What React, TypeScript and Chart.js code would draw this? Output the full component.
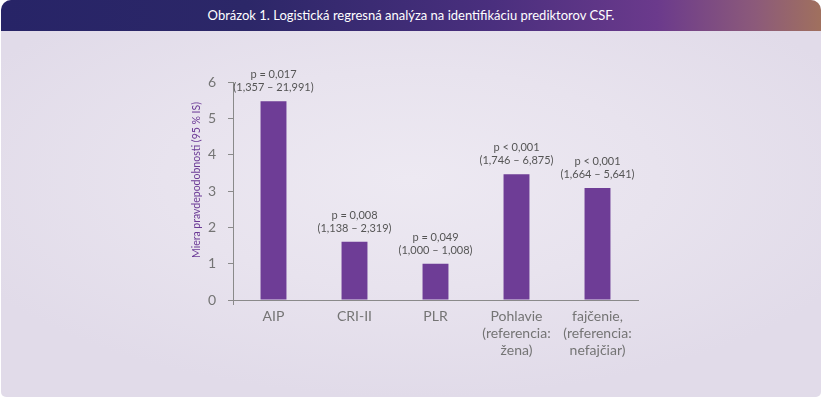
import React, { useEffect, useRef } from "react";
import { Chart, registerables } from "chart.js";

Chart.register(...registerables);

const categories: string[][] = [
  ["AIP"],
  ["CRI-II"],
  ["PLR"],
  ["Pohlavie", "(referencia:", "žena)"],
  ["fajčenie,", "(referencia:", "nefajčiar)"],
];
const oddsRatios: number[] = [5.47, 1.6, 1.0, 3.46, 3.08];
const pLabels: string[] = ["p = 0,017", "p = 0,008", "p = 0,049", "p < 0,001", "p < 0,001"];
const ciLabels: string[] = [
  "(1,357 – 21,991)",
  "(1,138 – 2,319)",
  "(1,000 – 1,008)",
  "(1,746 – 6,875)",
  "(1,664 – 5,641)",
];
const yTicks: number[] = [0, 1, 2, 3, 4, 5, 6];
const title = "Obrázok 1. Logistická regresná analýza na identifikáciu prediktorov CSF.";
const yTitle = "Miera pravdepodobnosti (95 % IS)";

const FONT = "Lato, 'Open Sans', sans-serif";

export default function App() {
  const ref = useRef<HTMLCanvasElement | null>(null);

  useEffect(() => {
    if (!ref.current) return;
    const annot = {
      id: "annot",
      afterDatasetsDraw(chart: any) {
        const ctx = chart.ctx;
        const meta = chart.getDatasetMeta(0);
        ctx.save();
        ctx.fillStyle = "#555555";
        ctx.font = `11px ${FONT}`;
        ctx.textAlign = "center";
        ctx.textBaseline = "middle";
        meta.data.forEach((bar: any, i: number) => {
          ctx.fillText(pLabels[i], bar.x, bar.y - 26.5);
          ctx.fillText(ciLabels[i], bar.x, bar.y - 13.5);
        });
        // y axis title
        const area = chart.chartArea;
        ctx.translate(area.left - 36, (area.top + area.bottom) / 2 - 11);
        ctx.rotate(-Math.PI / 2);
        ctx.fillStyle = "#6b3a96";
        ctx.font = `10.5px ${FONT}`;
        ctx.fillText(yTitle, 0, 0);
        ctx.restore();
      },
    };
    const chart = new Chart(ref.current, {
      type: "bar",
      data: {
        labels: categories,
        datasets: [
          {
            data: oddsRatios,
            backgroundColor: "#6e3d96",
            barPercentage: 0.32,
            categoryPercentage: 1,
          },
        ],
      },
      options: {
        animation: false,
        responsive: false,
        maintainAspectRatio: false,
        layout: { padding: { left: 180, right: 184, top: 82, bottom: 20 } },
        plugins: { legend: { display: false }, tooltip: { enabled: false } },
        scales: {
          x: {
            grid: {
              offset: true,
              drawOnChartArea: false,
              tickLength: 5,
              color: (c: any) => (c.index === 0 ? "#8a8a8a" : "rgba(0,0,0,0)"),
            },
            border: { color: "#8a8a8a" },
            ticks: {
              color: "#747474",
              font: { family: FONT, size: 14, lineHeight: 1.22 },
              padding: 3,
              maxRotation: 0,
              autoSkip: false,
            },
            afterFit: (s: any) => {
              s.height = 78;
            },
          },
          y: {
            min: 0,
            max: 6,
            afterBuildTicks: (s: any) => {
              s.ticks = yTicks.map((v) => ({ value: v }));
            },
            grid: { drawOnChartArea: false, tickLength: 5, color: "#8a8a8a" },
            border: { color: "#8a8a8a" },
            ticks: {
              color: "#747474",
              font: { family: FONT, size: 14 },
              padding: 12,
            },
            afterFit: (s: any) => {
              s.width = 53;
            },
          },
        },
      },
      plugins: [annot],
    });
    return () => chart.destroy();
  }, []);

  return (
    <div style={{ position: "absolute", left: 0, top: 0, width: 822, height: 398, background: "#ffffff" }}>
      <div
        style={{
          position: "absolute",
          left: 1,
          top: 0,
          width: 820,
          height: 397,
          borderRadius: "10px 10px 5px 5px",
          overflow: "hidden",
          background: "radial-gradient(ellipse 60% 55% at 50% 45%, #ede9f2 0%, #e8e3ee 50%, #e1dbe9 100%)",
        }}
      >
        <div
          style={{
            height: 31,
            background: "linear-gradient(90deg, #272467 0%, #2c2768 30%, #4a2f7e 60%, #6b3a8c 80%, #8c5a7a 92%, #a0705e 100%)",
            color: "#ffffff",
            fontFamily: FONT,
            fontSize: 13,
            lineHeight: "31px",
            textAlign: "center",
          }}
        >
          {title}
        </div>
      </div>
      <canvas ref={ref} width={822} height={398} style={{ position: "absolute", left: 0, top: 0, width: 822, height: 398 }} />
    </div>
  );
}
